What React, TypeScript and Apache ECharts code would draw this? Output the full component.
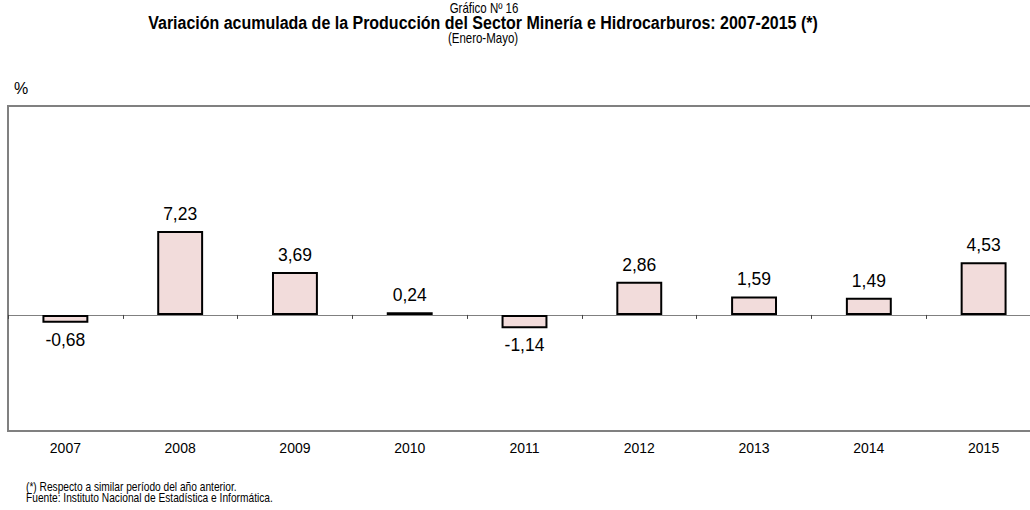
import React, { useEffect, useRef } from "react";
import * as echarts from "echarts";

const years = ["2007", "2008", "2009", "2010", "2011", "2012", "2013", "2014", "2015"];
const values = [-0.68, 7.23, 3.69, 0.24, -1.14, 2.86, 1.59, 1.49, 4.53];
const titleTop = "Gráfico Nº 16";
const titleMain = "Variación acumulada de la Producción del Sector Minería e Hidrocarburos: 2007-2015 (*)";
const titleSub = "(Enero-Mayo)";
const unitLabel = "%";
const notes = [
  "(*) Respecto a similar período del año anterior.",
  "Fuente: Instituto Nacional de Estadística e Informática.",
];

const SANS = "'Liberation Sans', Arial, sans-serif";

function tallText(x: number, y: number, text: string, fontSize: number, opts: any = {}) {
  return {
    type: "text",
    x,
    y,
    scaleY: opts.scaleY ?? 1.22,
    style: {
      x: 0,
      y: 0,
      text,
      align: opts.align ?? "center",
      verticalAlign: "middle",
      fontFamily: SANS,
      fontWeight: opts.bold ? "bold" : "normal",
      fontSize,
      fill: "#000",
    },
  };
}

export default function App() {
  const ref = useRef<HTMLDivElement>(null);
  useEffect(() => {
    if (!ref.current) return;
    const chart = echarts.init(ref.current, null, { renderer: "svg" });
    const fmt = (v: number) => v.toFixed(2).replace(".", ",");
    chart.setOption({
      animation: false,
      backgroundColor: "#ffffff",
      grid: {
        left: 8,
        top: 106,
        width: 1033,
        height: 325,
        show: true,
        borderColor: "#808080",
        borderWidth: 2,
        backgroundColor: "transparent",
        outerBoundsMode: "none",
        containLabel: false,
      },
      xAxis: [
        {
          type: "category",
          data: years,
          position: "bottom",
          axisLine: { onZero: true, lineStyle: { color: "#808080", width: 1 } },
          axisTick: { show: true, length: 4, lineStyle: { color: "#444444" } },
          axisLabel: { show: false },
          splitLine: { show: false },
        },
        {
          type: "category",
          data: years,
          position: "bottom",
          axisLine: { show: false, onZero: false },
          axisTick: { show: false },
          axisLabel: {
            show: true,
            color: "#000000",
            fontFamily: SANS,
            fontSize: 14,
            margin: 10,
          },
          splitLine: { show: false },
        },
      ],
      yAxis: {
        type: "value",
        min: -10,
        max: 18,
        show: false,
        splitLine: { show: false },
      },
      graphic: [
        tallText(484, 8, titleTop, 11.5, { scaleY: 1.25 }),
        tallText(483, 23.5, titleMain, 16, { bold: true, scaleY: 1.1 }),
        tallText(483, 38, titleSub, 11.5, { scaleY: 1.25 }),
        tallText(14, 88, unitLabel, 16, { align: "left", scaleY: 1 }),
        tallText(26, 487, notes[0], 10.2, { align: "left" }),
        tallText(26, 498, notes[1], 10.2, { align: "left" }),
      ],
      series: [
        {
          type: "bar",
          xAxisIndex: 0,
          yAxisIndex: 0,
          barWidth: "40%",
          data: values.map((v) => ({
            value: v,
            label: { position: v < 0 ? "bottom" : "top" },
          })),
          itemStyle: { color: "#F2DCDB", borderColor: "#000000", borderWidth: 2 },
          label: {
            show: true,
            distance: 8,
            color: "#000",
            fontFamily: SANS,
            fontSize: 17.5,
            formatter: (p: any) => fmt(p.value),
          },
        },
      ],
    });
    return () => chart.dispose();
  }, []);
  return (
    <div
      ref={ref}
      style={{ position: "absolute", left: 0, top: 0, width: 1030, height: 510 }}
    />
  );
}
